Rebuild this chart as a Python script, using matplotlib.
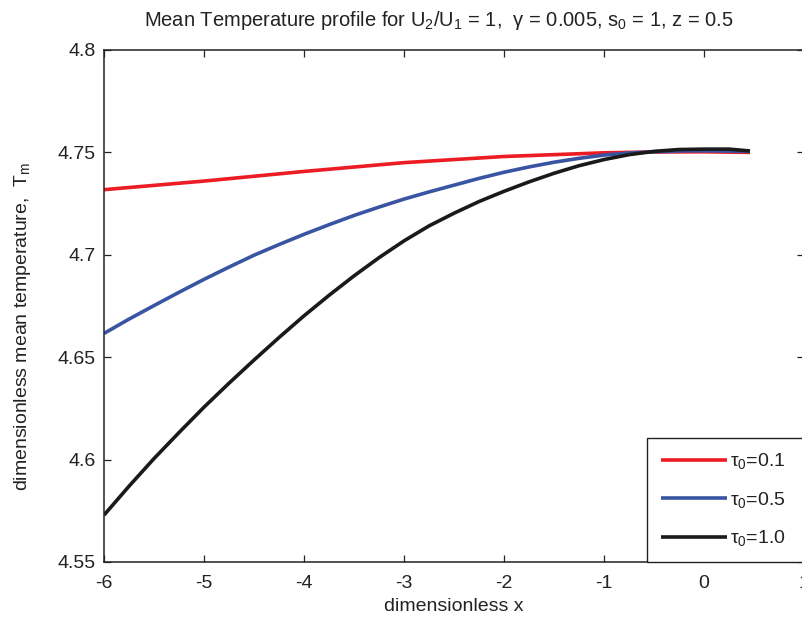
import matplotlib
matplotlib.use("Agg")
import matplotlib.pyplot as plt

plt.rcParams['font.family'] = ['Liberation Sans', 'DejaVu Sans']
plt.rcParams['mathtext.fontset'] = 'custom'
plt.rcParams['mathtext.rm'] = 'Liberation Sans'
plt.rcParams['mathtext.it'] = 'Liberation Sans'
plt.rcParams['mathtext.default'] = 'regular'

# values
x_red = [-6, -5, -4, -3, -2, -1, -0.5, 0, 0.46]
t_red = [4.7318, 4.7360, 4.7407, 4.7450, 4.7480, 4.7498, 4.7502, 4.7503, 4.7500]

x_blue = [-6, -5.75, -5.5, -5.25, -5, -4.75, -4.5, -4.25, -4, -3.75, -3.5,
          -3.25, -3, -2.75, -2.5, -2.25, -2, -1.75, -1.5, -1.25, -1, -0.75,
          -0.5, -0.25, 0, 0.46]
t_blue = [4.6616, 4.6686, 4.6752, 4.6817, 4.6880, 4.6940, 4.6998, 4.7050,
          4.7100, 4.7147, 4.7192, 4.7233, 4.7272, 4.7307, 4.7340, 4.7373,
          4.7403, 4.7429, 4.7452, 4.7471, 4.7487, 4.7497, 4.7503, 4.7507,
          4.7508, 4.7505]

x_black = [-6, -5.75, -5.5, -5.25, -5, -4.75, -4.5, -4.25, -4, -3.75, -3.5,
           -3.25, -3, -2.75, -2.5, -2.25, -2, -1.75, -1.5, -1.25, -1, -0.75,
           -0.5, -0.25, 0, 0.25, 0.46]
t_black = [4.5729, 4.5870, 4.6005, 4.6132, 4.6256, 4.6373, 4.6486, 4.6596,
           4.6702, 4.6802, 4.6897, 4.6986, 4.7068, 4.7141, 4.7203, 4.7260,
           4.7310, 4.7356, 4.7398, 4.7435, 4.7465, 4.7489, 4.7505, 4.7514,
           4.7516, 4.7516, 4.7507]

labels = [r'τ$_0$=0.1', r'τ$_0$=0.5', r'τ$_0$=1.0']
colors = ['#ec1c24', '#3a54a4', '#1a1a1a']

xticks = [-6, -5, -4, -3, -2, -1, 0, 1]
yticks = [4.55, 4.6, 4.65, 4.7, 4.75, 4.8]
ytick_labels = ['4.55', '4.6', '4.65', '4.7', '4.75', '4.8']

fig = plt.figure(figsize=(8.02, 6.23), dpi=100)
ax = fig.add_axes([104/802, 1 - 562/623, 700/802, 512/623])

for xs, ts, c, lab in zip([x_red, x_blue, x_black], [t_red, t_blue, t_black],
                          colors, labels):
    ax.plot(xs, ts, color=c, lw=2.6, label=lab, solid_capstyle='butt')

ax.set_xlim(-6, 1)
ax.set_ylim(4.55, 4.8)
ax.set_xticks(xticks)
ax.set_xticklabels([str(v) for v in xticks])
ax.set_yticks(yticks)
ax.set_yticklabels(ytick_labels)

ax.tick_params(direction='in', top=True, right=True, length=5, width=0.9,
               labelsize=14, colors='#222222', pad=9)
ax.tick_params(axis='y', pad=6)
for sp in ax.spines.values():
    sp.set_linewidth(1.1)
    sp.set_color('#222222')

ax.set_xlabel('dimensionless x', fontsize=14, color='#222222', labelpad=5)
ax.set_ylabel('dimensionless mean temperature,  T$_m$', fontsize=14,
              color='#222222')
ax.yaxis.set_label_coords(-0.101, 0.46)
fig.text(439/802, 1 - 20/623, 'Mean Temperature profile for U$_2$/U$_1$ = 1,  '
         'γ = 0.005, s$_0$ = 1, z = 0.5', fontsize=14.5, color='#222222',
         ha='center', va='center')

leg = ax.legend(loc='lower left', bbox_to_anchor=(0.7757, 0, 0.3, 0.248),
                mode='expand', borderaxespad=0, fontsize=14,
                handlelength=3.4, handletextpad=0.15, borderpad=0.7,
                labelspacing=0.95, fancybox=False, framealpha=1)
leg.get_frame().set_edgecolor('#222222')
leg.get_frame().set_linewidth(1.0)
for t in leg.get_texts():
    t.set_color('#222222')

plt.savefig('out.png', dpi=100)
